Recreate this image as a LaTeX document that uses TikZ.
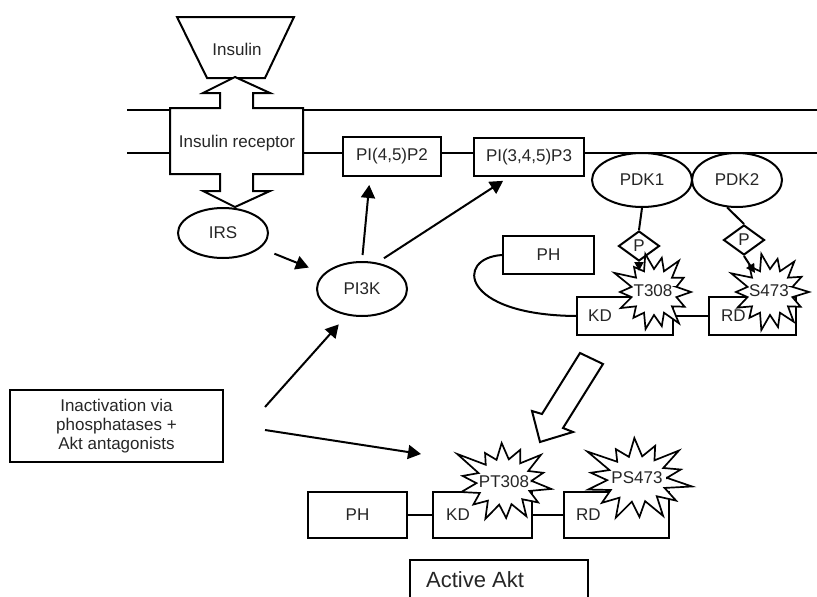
\documentclass[tikz,border=0pt]{standalone}
\usepackage{fontspec}
\setmainfont{Liberation Sans}
\usetikzlibrary{arrows.meta,shapes.geometric,calc}

% irregular starburst: #1 centre, #2 x-scale, #3 y-scale, #4 inner radius, #5 rotation, #6 outer radii (14 values)
\def\bstep{25.7143}
\newcommand\drawburst[6]{%
  \path[burstline]
    ($(#1)+({#2*#4*cos(#5-0.5*\bstep)},{#3*#4*sin(#5-0.5*\bstep)})$)
    \foreach \r [count=\i from 0] in {#6} {
      -- ($(#1)+({#2*\r*cos(#5+\i*\bstep)},{#3*\r*sin(#5+\i*\bstep)})$)
      -- ($(#1)+({#2*#4*cos(#5+(\i+0.5)*\bstep)},{#3*#4*sin(#5+(\i+0.5)*\bstep)})$)
    } -- cycle;}

\begin{document}
\begin{tikzpicture}[x=1pt,y=-1pt,
  every node/.style={text=black!85, font=\fontsize{17}{19}\selectfont},
  wall/.style={line width=2pt, line join=miter},
  box/.style={draw, line width=2pt, fill=white, rectangle, inner sep=0pt},
  oval/.style={draw, line width=2pt, fill=white, ellipse, inner sep=0pt},
  pbox/.style={draw, line width=2pt, fill=white, diamond, inner sep=0pt,
               minimum width=41pt, minimum height=30pt},
  lbl/.style={inner sep=0pt},
  arr/.style={line width=2pt, -{Triangle[length=13pt,width=14pt]}},
  sarr/.style={line width=2pt, -{Triangle[length=9pt,width=9pt]}},
  burstline/.style={draw, line width=1.7pt, fill=white, line join=miter, miter limit=20}]

\fill[white] (0,0) rectangle (817,597);
\useasboundingbox (0,0) rectangle (817,597);
\clip (0,0) rectangle (817,597);

% cell membrane
\draw[wall] (127,110) -- (817,110);
\draw[wall] (127,153) -- (817,153);

% insulin
\draw[wall, fill=white] (177,17) -- (294,17) -- (265,78) -- (207,78) -- cycle;
\node[lbl] (insulin) at (237,49) {Insulin};

% insulin receptor with its two arrows
\draw[wall, fill=white] (235,77) -- (270,93) -- (253,93) -- (253,108) -- (303,108)
  -- (303,174) -- (253,174) -- (253,191) -- (270,191) -- (235,207) -- (203,191)
  -- (220,191) -- (220,174) -- (170,174) -- (170,108) -- (220,108) -- (220,93)
  -- (203,93) -- cycle;
\node[lbl] (receptor) at (237,143) {Insulin receptor};

% lipids
\node[box, minimum width=98pt, minimum height=39pt] (pip2) at (392,156.5) {PI(4,5)P2};
\node[box, minimum width=110pt, minimum height=38pt] (pip3) at (529,157) {PI(3,4,5)P3};

% signalling proteins
\node[oval, minimum width=90pt, minimum height=50pt] (irs) at (223,233) {IRS};
\node[oval, minimum width=90pt, minimum height=54pt] (pi3k) at (362,289) {PI3K};
\node[oval, minimum width=100pt, minimum height=54pt] (pdk1) at (642,180) {PDK1};
\node[oval, minimum width=90pt, minimum height=54pt] (pdk2) at (737,180) {PDK2};

\draw[arr, shorten <=15pt, shorten >=16pt] (irs) -- (pi3k);
\draw[arr, shorten <=6pt, shorten >=8pt] (pi3k.north) -- ([xshift=-22pt]pip2.south);
\draw[arr, shorten <=8pt, shorten >=7pt] (pi3k.60) -- ([xshift=-20pt]pip3.south);

% phosphate groups
\node[pbox] (p1) at (639,246) {P};
\node[pbox] (p2) at (744,240) {P};
\draw[wall] (pdk1.south) -- (p1.north);
\draw[wall] (pdk2.250) -- (p2.north);

% inactive Akt
\node[box, minimum width=91pt, minimum height=38pt] (ph1) at (548.5,255) {PH};
\node[box, minimum width=96pt, minimum height=38pt] (kd1) at (625,316) {};
\node[box, minimum width=87pt, minimum height=38pt] (rd1) at (752.5,316) {};
\node[lbl, anchor=west] (kd1t) at ([xshift=12pt]kd1.west) {KD};
\node[lbl, anchor=west] (rd1t) at ([xshift=13pt]rd1.west) {RD};
\draw[wall] (ph1.west) .. controls (455,258) and (460,315) .. (kd1.west);
\draw[wall] (kd1.east) -- (rd1.west);

\coordinate (t308) at (654,292);
\coordinate (s473) at (770,292);
\drawburst{t308}{1}{1}{23}{0}{37,34,40,35,38,33,37,34,44,32,39,35,40,33}
\drawburst{s473}{1}{1}{23}{0}{39,34,38,36,39,33,36,34,43,33,39,34,39,35}
\node[lbl] (t308t) at (653,291) {T308};
\node[lbl] (s473t) at (769,291) {S473};

\draw[sarr] (p1.south) -- ($(t308)+(-15,-21)$);
\draw[sarr] (p2.south) -- ($(s473)+(-15,-19)$);

% activation arrow
\draw[wall, fill=white] (580,353) -- (603,364) -- (563,428) -- (573,432) -- (540,442)
  -- (532,411) -- (542,414) -- cycle;

% inactivation
\node[box, minimum width=213pt, minimum height=72pt, align=center] (inact) at (116.5,426)
  {Inactivation via\\phosphatases +\\Akt antagonists};
\coordinate (inA) at (265,407);
\coordinate (inB) at (265,430);
\draw[arr, shorten >=12pt] (inA) -- (pi3k.240);

% active Akt
\node[box, minimum width=99pt, minimum height=46pt] (ph2) at (357.5,515) {PH};
\node[box, minimum width=99pt, minimum height=46pt] (kd2) at (482.5,515) {};
\node[box, minimum width=105pt, minimum height=46pt] (rd2) at (616.5,515) {};
\node[lbl, anchor=west] (kd2t) at ([xshift=14pt]kd2.west) {KD};
\node[lbl, anchor=west] (rd2t) at ([xshift=13pt]rd2.west) {RD};
\draw[wall] (ph2.east) -- (kd2.west);
\draw[wall] (kd2.east) -- (rd2.west);
\draw[arr] (inB) -- ($(kd2.north west)+(-11,-37)$);

\coordinate (pt308) at (504,482);
\coordinate (ps473) at (637,479);
\drawburst{pt308}{1.2}{1}{23}{10}{40,35,39,36,40,34,37,35,48,33,39,35,41,34}
\drawburst{ps473}{1.3}{1}{23}{10}{43,37,42,38,42,36,39,36,47,34,41,36,43,35}
\node[lbl] (pt308t) at (504,482) {PT308};
\node[lbl] (ps473t) at (637,478) {PS473};

\node[box, minimum width=178pt, minimum height=60pt] (active) at (499,590) {};
\node[lbl, font=\fontsize{22}{26}\selectfont] (activet) at (475,580) {Active Akt};

\end{tikzpicture}
\end{document}
